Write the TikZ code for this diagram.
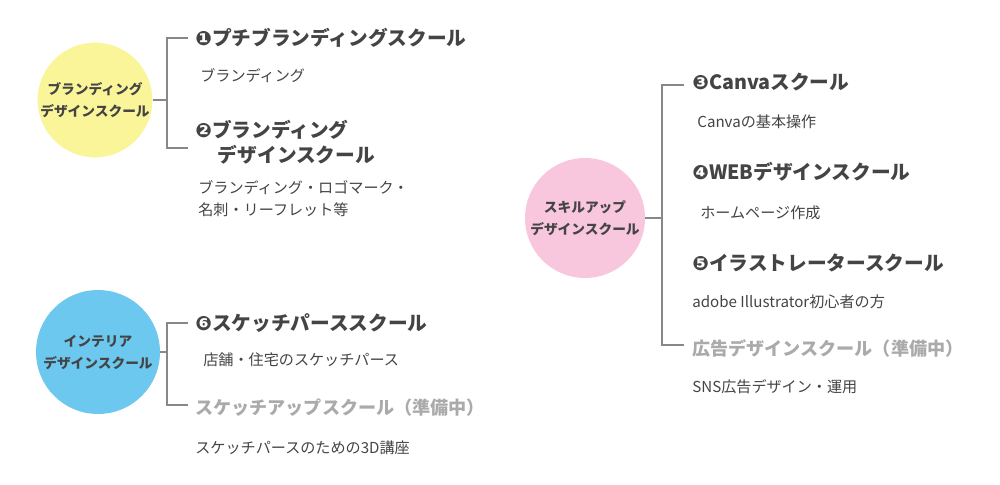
\documentclass[tikz,border=0pt]{standalone}
\usepackage{fontspec}
\setmainfont{Noto Sans CJK JP}
\newfontfamily\numfont{DejaVu Sans}
\usetikzlibrary{positioning}
\definecolor{txtgray}{HTML}{444444}
\definecolor{mutegray}{HTML}{AAAAAA}
\definecolor{linegray}{HTML}{888888}
\definecolor{cyellow}{HTML}{FBF59A}
\definecolor{cblue}{HTML}{6CC8EE}
\definecolor{cpink}{HTML}{F8C6DD}
\newcommand{\nm}[1]{{\numfont #1}}

\begin{document}
\begin{tikzpicture}[x=0.02cm,y=-0.02cm,
    course/.style={anchor=west,inner sep=0pt,text=txtgray,font=\fontsize{11.2}{14}\selectfont\bfseries},
    wip/.style={anchor=west,inner sep=0pt,text=mutegray,font=\fontsize{10.3}{13}\selectfont\bfseries},
    detail/.style={anchor=west,inner sep=0pt,text=txtgray,font=\fontsize{8.6}{12}\selectfont,align=left},
    genre/.style={circle,inner sep=0pt,text=txtgray,align=center,font=\fontsize{7.8}{12.5}\selectfont\bfseries},
    bracket/.style={draw=linegray,line width=0.6pt}]
    \useasboundingbox (0,0) rectangle (1000,484);

    % branding
    \node[genre,fill=cyellow,minimum size=2.28cm] (brand) at (95,100) {ブランディング\\デザインスクール};
    \node[course] (c1) at (195,38) {\nm{❶}プチブランディングスクール};
    \node[detail] (d1) at (200,76) {ブランディング};
    \node[course,align=left,font=\fontsize{11.2}{14.2}\selectfont\bfseries] (c2) at (195,142) {\nm{❷}ブランディング\\\hspace{1.15em}デザインスクール};
    \node[detail,font=\fontsize{8.6}{12.5}\selectfont] (d2) at (198,199) {ブランディング・ロゴマーク・\\名刺・リーフレット等};
    \coordinate (b1t) at (167,38);
    \coordinate (b1b) at (167,148);
    \draw[bracket] (brand.east) -- (brand.east -| b1t);
    \draw[bracket] (188,38) -- (b1t) -- (b1b) -- (188,148);

    % interior
    \node[genre,fill=cblue,minimum size=2.48cm] (inter) at (98,352) {インテリア\\デザインスクール};
    \node[course] (c6) at (195,323) {\nm{❻}スケッチパーススクール};
    \node[detail] (d6) at (203,360) {店舗・住宅のスケッチパース};
    \node[wip] (w1) at (195,408) {スケッチアップスクール（準備中）};
    \node[detail] (d7) at (195,448) {スケッチパースのための3D講座};
    \coordinate (b2t) at (167,323);
    \coordinate (b2b) at (167,405);
    \draw[bracket] (inter.east) -- (inter.east -| b2t);
    \draw[bracket] (188,323) -- (b2t) -- (b2b) -- (188,405);

    % skill up
    \node[genre,fill=cpink,minimum size=2.4cm] (skill) at (585,218) {スキルアップ\\デザインスクール};
    \node[course] (c3) at (692,82) {\nm{❸}Canvaスクール};
    \node[detail] (d3) at (697,122) {Canvaの基本操作};
    \node[course] (c4) at (692,172) {\nm{❹}WEBデザインスクール};
    \node[detail] (d4) at (700,213) {ホームページ作成};
    \node[course] (c5) at (692,263) {\nm{❺}イラストレータースクール};
    \node[detail] (d5) at (692,302) {adobe Illustrator初心者の方};
    \node[wip] (w2) at (692,348) {広告デザインスクール（準備中）};
    \node[detail] (d8) at (692,387) {SNS広告デザイン・運用};
    \coordinate (b3t) at (662,85);
    \coordinate (b3b) at (662,345);
    \draw[bracket] (skill.east) -- (skill.east -| b3t);
    \draw[bracket] (684,85) -- (b3t) -- (b3b) -- (684,345);
\end{tikzpicture}
\end{document}
